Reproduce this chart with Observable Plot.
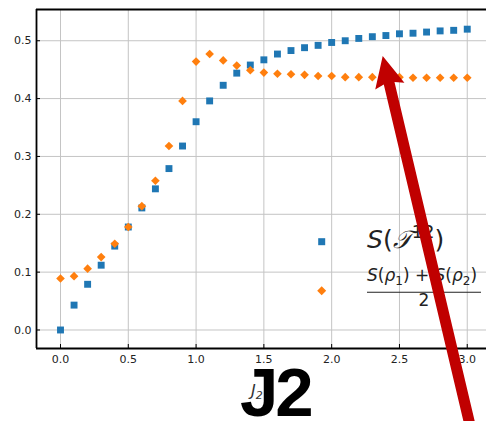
<!DOCTYPE html>
<html>
<head>
<meta charset="utf-8">
<script src="https://cdn.jsdelivr.net/npm/d3@7"></script>
<script src="https://cdn.jsdelivr.net/npm/@observablehq/plot@0.6"></script>
<style>
  html, body { margin: 0; padding: 0; background: #fff; }
  #wrap { position: relative; width: 486px; height: 421px; overflow: hidden; }
  #ann { position: absolute; left: 0; top: 0; }
</style>
</head>
<body>
<div id="wrap"><div id="chart"></div></div>
<script>
// ---- data ----
const J = [0.0, 0.1, 0.2, 0.3, 0.4, 0.5, 0.6, 0.7, 0.8, 0.9, 1.0, 1.1, 1.2, 1.3, 1.4, 1.5,
           1.6, 1.7, 1.8, 1.9, 2.0, 2.1, 2.2, 2.3, 2.4, 2.5, 2.6, 2.7, 2.8, 2.9, 3.0];
const sTau = [0.000, 0.043, 0.079, 0.112, 0.145, 0.178, 0.211, 0.244, 0.279, 0.318, 0.360,
              0.396, 0.423, 0.444, 0.458, 0.467, 0.477, 0.483, 0.488, 0.492, 0.497, 0.500,
              0.504, 0.507, 0.509, 0.512, 0.513, 0.515, 0.517, 0.518, 0.520];
const sRhoAvg = [0.089, 0.093, 0.106, 0.126, 0.149, 0.178, 0.214, 0.258, 0.318, 0.396, 0.464,
                 0.477, 0.466, 0.457, 0.449, 0.445, 0.443, 0.442, 0.441, 0.439, 0.439, 0.437,
                 0.437, 0.437, 0.437, 0.437, 0.436, 0.436, 0.436, 0.436, 0.436];
const xTicks = [0.0, 0.5, 1.0, 1.5, 2.0, 2.5, 3.0];
const xTickLabels = ["0.0", "0.5", "1.0", "1.5", "2.0", "2.5", "3.0"];
const yTicks = [0.0, 0.1, 0.2, 0.3, 0.4, 0.5];
const yTickLabels = ["0.0", "0.1", "0.2", "0.3", "0.4", "0.5"];
const xLabel = "J";
const xLabelSub = "2";
const bigLabel = "J2";

const rows = J.map((j, i) => ({J: j, tau: sTau[i], rho: sRhoAvg[i]}));
const xDomain = [-0.177, 3.142];
const yDomain = [-0.032, 0.554];

const chart = Plot.plot({
  width: 486,
  height: 421,
  marginLeft: 36,
  marginRight: 0,
  marginTop: 9,
  marginBottom: 73,
  x: {domain: xDomain},
  y: {domain: yDomain},
  style: {fontFamily: "DejaVu Sans", fontSize: "11px", color: "#222", background: "white"},
  marks: [
    Plot.gridX(xTicks, {stroke: "#c4c4c4", strokeOpacity: 1, strokeWidth: 1}),
    Plot.gridY(yTicks, {stroke: "#c4c4c4", strokeOpacity: 1, strokeWidth: 1}),
    Plot.axisX(xTicks, {tickSize: -4, tickPadding: 11, label: null, stroke: "black",
      tickFormat: d => xTickLabels[xTicks.indexOf(d)]}),
    Plot.axisY(yTicks, {tickSize: -4, tickPadding: 9, label: null, stroke: "black",
      tickFormat: d => yTickLabels[yTicks.indexOf(d)]}),
    Plot.dot(rows, {x: "J", y: "tau", symbol: "square", r: 3.9, fill: "#1f77b4", stroke: null}),
    Plot.dot(rows, {x: "J", y: "rho", symbol: "diamond2", r: 3.9, fill: "#ff7f0e", stroke: null}),
    Plot.ruleX([xDomain[0]], {stroke: "black", strokeWidth: 1.8}),
    Plot.ruleY([yDomain[0]], {stroke: "black", strokeWidth: 1.8}),
    Plot.ruleY([yDomain[1]], {stroke: "black", strokeWidth: 1.8})
  ]
});
document.getElementById("chart").appendChild(chart);

// ---- annotation overlay: legend, axis label, big label, red arrow ----
const ns = "http://www.w3.org/2000/svg";
const ann = document.createElementNS(ns, "svg");
ann.setAttribute("id", "ann");
ann.setAttribute("width", 486);
ann.setAttribute("height", 421);
ann.innerHTML = `
  <rect x="318.2" y="238.2" width="7" height="7" fill="#1f77b4"/>
  <path d="M321.7,286.2 L326.2,290.7 L321.7,295.2 L317.2,290.7 Z" fill="#ff7f0e"/>
  <text x="367" y="248" font-family="DejaVu Sans" font-size="25" fill="#222"><tspan font-style="italic">S</tspan>(<tspan font-style="italic">𝒯</tspan><tspan font-size="18" dy="-10">12</tspan><tspan dy="10">)</tspan></text>
  <text x="367" y="281" font-family="DejaVu Sans" font-size="17" fill="#222"><tspan font-style="italic">S</tspan>(<tspan font-style="italic">ρ</tspan><tspan font-size="12" dy="4">1</tspan><tspan dy="-4">) + </tspan><tspan font-style="italic">S</tspan>(<tspan font-style="italic">ρ</tspan><tspan font-size="12" dy="4">2</tspan><tspan dy="-4">)</tspan></text>
  <line x1="367" x2="481" y1="292.3" y2="292.3" stroke="#222" stroke-width="1.1"/>
  <text x="424" y="306" text-anchor="middle" font-family="DejaVu Sans" font-size="17" fill="#222">2</text>
  <text x="251" y="396" font-family="DejaVu Sans" font-size="16" font-style="italic" fill="#333">${xLabel}<tspan font-size="11" dy="3">${xLabelSub}</tspan></text>
  <text x="240" y="416" font-family="Liberation Sans" font-weight="bold" font-size="69" letter-spacing="-3" fill="#000">${bigLabel}</text>
`;
// arrow
const tip = [382.7, 56], end = [474, 442];
const dx = end[0] - tip[0], dy = end[1] - tip[1], len = Math.hypot(dx, dy);
const u = [dx / len, dy / len], p = [u[1], -u[0]];
const L = 31, W = 15, S = 5.5;
const pt = (a, b) => [tip[0] + a * u[0] + b * p[0], tip[1] + a * u[1] + b * p[1]];
const pts = [pt(0, 0), pt(L, W), pt(L - 3, S), pt(len, S), pt(len, -S), pt(L - 3, -S), pt(L, -W)];
const poly = document.createElementNS(ns, "polygon");
poly.setAttribute("points", pts.map(q => q.join(",")).join(" "));
poly.setAttribute("fill", "#c00000");
ann.appendChild(poly);
document.getElementById("wrap").appendChild(ann);
</script>
</body>
</html>
